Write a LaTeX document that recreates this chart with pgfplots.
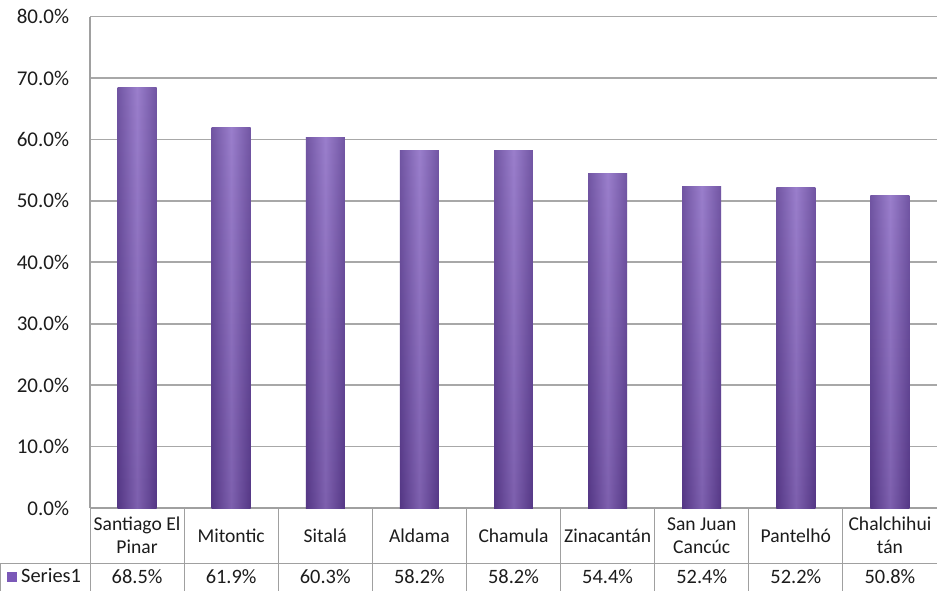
\documentclass[border=0pt]{standalone}
\usepackage{fontspec}
\setmainfont{Carlito}
\usepackage{pgfplots}
\pgfplotsset{compat=1.18}
\usepackage{pgfplotstable}

\definecolor{gridgray}{HTML}{A8A8A8}
\definecolor{tablegray}{HTML}{A0A0A0}
\definecolor{barlight}{HTML}{8766C2}
\definecolor{bardark}{HTML}{65429F}
\definecolor{barkey}{HTML}{7B59B8}
\definecolor{textcol}{HTML}{1C1C1C}

\newcommand{\chartfont}{\fontsize{9.8}{11.4}\selectfont}
\newcommand{\tickfont}{\fontsize{10.5}{12}\selectfont}
\newcommand{\valfont}{\fontsize{10.2}{12}\selectfont}

% municipality index and share
\pgfplotstableread{
x v
0 68.5
1 61.9
2 60.3
3 58.2
4 58.2
5 54.4
6 52.4
7 52.2
8 50.8
}\shares

\begin{document}
\begin{tikzpicture}
\chartfont
\useasboundingbox (-45pt,-41.5pt) rectangle (423.5pt,254pt);
\begin{axis}[
  at={(0,0)}, anchor=south west,
  scale only axis, width=423.5pt, height=245.75pt,
  xmin=-0.5, xmax=8.5, ymin=0, ymax=80,
  clip=false,
  axis x line*=bottom, axis y line*=left,
  axis line style={tablegray, line width=0.6pt, -},
  major tick length=0pt,
  ytick={0,10,...,80},
  ymajorgrids, grid style={gridgray, line width=0.8pt},
  /pgf/number format/assume math mode=true,
  yticklabel={\pgfmathprintnumber[fixed,fixed zerofill,precision=1]{\tick}\%},
  yticklabel style={font=\tickfont, text=textcol, anchor=east, xshift=-7pt},
  xtick={0,...,8},
  xticklabels={{Santiago El\\Pinar},Mitontic,Sitalá,Aldama,Chamula,Zinacantán,{San Juan\\Cancúc},Pantelhó,{Chalchihui\\tán}},
  xticklabel style={font=\chartfont, text=textcol, align=center, anchor=center, yshift=-13.75pt},
  legend style={at={(axis cs:-0.5,0)}, anchor=west, xshift=-42.5pt, yshift=-34.5pt,
    draw=none, fill=none, font=\valfont, text=textcol, inner sep=1pt},
  legend cell align=left,
]
% one bar per municipality so each gets its own shading
\pgfplotsinvokeforeach{0,...,8}{
  \addplot[ybar, bar width=0.414, draw=none, top color=barlight, bottom color=bardark,
    restrict x to domain=#1:#1, forget plot]
    table[x=x, y=v]{\shares};
  \addplot[ybar, bar width=0.414, draw=none, forget plot, fill opacity=0.16,
    left color=black, right color=black, middle color=white,
    restrict x to domain=#1:#1]
    table[x=x, y=v]{\shares};
}
\addlegendimage{legend image code/.code={\fill[barkey] (0pt,-2.2pt) rectangle (4.5pt,2.3pt);}}
\addlegendentry{Series1}
% value row of the data table
\addplot[draw=none, mark=none, forget plot, point meta=explicit,
  nodes near coords={\pgfmathprintnumber[fixed,fixed zerofill,precision=1]{\pgfplotspointmeta}\%},
  nodes near coords style={font=\valfont, text=textcol, anchor=center, yshift=-34.5pt}]
  table[x=x, y expr=0, meta=v]{\shares};
% data table borders
\pgfplotsinvokeforeach{-0.5,0.5,...,7.5}{
  \draw[tablegray, line width=0.5pt] (axis cs:#1,0) -- ++(0pt,-41.5pt);
}
\draw[tablegray, line width=0.5pt] ([xshift=-44.5pt,yshift=-27.5pt]axis cs:-0.5,0) -- ([yshift=-27.5pt]axis cs:8.5,0);
\draw[tablegray, line width=0.5pt] ([xshift=-44.5pt,yshift=-27.5pt]axis cs:-0.5,0) -- ++(0pt,-14pt);
\end{axis}
\end{tikzpicture}
\end{document}
